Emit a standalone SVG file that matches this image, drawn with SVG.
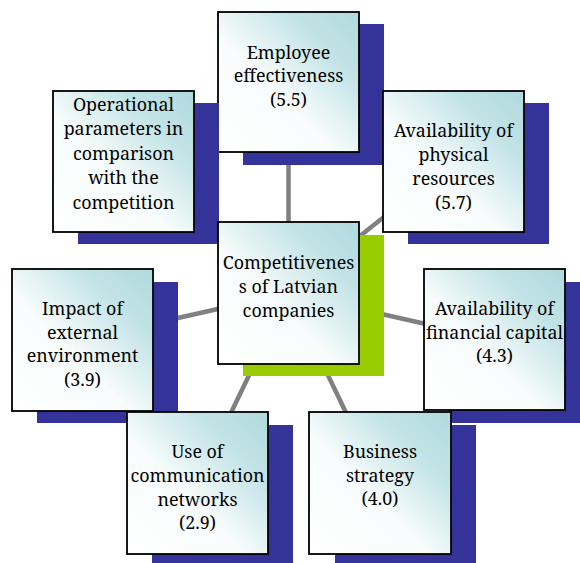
<svg xmlns="http://www.w3.org/2000/svg" width="580" height="563" viewBox="0 0 580 563">
<defs>
<linearGradient id="g" x1="1" y1="0" x2="0" y2="1">
<stop offset="0" stop-color="#b0d9de"/>
<stop offset="0.25" stop-color="#c2e3e6"/>
<stop offset="0.58" stop-color="#f8fcfc"/>
<stop offset="1" stop-color="#ffffff"/>
</linearGradient>
<style>
.sh{fill:#333399}
.shg{fill:#99cc00}
.bx{fill:url(#g);stroke:#000;stroke-width:1.8}
.t{font-family:"Noto Serif","DejaVu Serif",serif;font-size:19px;fill:#000;text-anchor:middle}
.c{stroke:#808080;stroke-width:4.5;fill:none}
</style>
</defs>
<rect width="580" height="563" fill="#fff"/>
<g id="connectors">
<line class="c" x1="288.5" y1="293" x2="288.5" y2="82"/>
<line class="c" x1="288.5" y1="293" x2="123.5" y2="161.5"/>
<line class="c" x1="288.5" y1="293" x2="453.5" y2="161.5"/>
<line class="c" x1="288.5" y1="293" x2="82.5" y2="339.5"/>
<line class="c" x1="288.5" y1="293" x2="494.5" y2="339.5"/>
<line class="c" x1="288.5" y1="293" x2="197.5" y2="482.5"/>
<line class="c" x1="288.5" y1="293" x2="379.5" y2="482.5"/>
</g>
<g id="employee">
<rect class="sh" x="243" y="24" width="141" height="141"/>
<rect class="bx" x="218" y="12" width="141" height="140"/>
<text class="t" transform="matrix(0.94 0 0 1 17.31 0)"><tspan x="288.5" y="59">Employee</tspan><tspan x="288.5" y="82.5">effectiveness</tspan><tspan x="288.5" y="106">(5.5)</tspan></text>
</g>
<g id="operational">
<rect class="sh" x="78" y="103" width="141" height="141"/>
<rect class="bx" x="53" y="91" width="141" height="141"/>
<text class="t" transform="matrix(0.94 0 0 1 7.41 0)"><tspan x="123.5" y="111">Operational</tspan><tspan x="123.5" y="135.5">parameters in</tspan><tspan x="123.5" y="160">comparison</tspan><tspan x="123.5" y="184.5">with the</tspan><tspan x="123.5" y="209">competition</tspan></text>
</g>
<g id="physical">
<rect class="sh" x="408" y="103" width="141" height="141"/>
<rect class="bx" x="383" y="91" width="141" height="141"/>
<text class="t" transform="matrix(0.94 0 0 1 27.21 0)"><tspan x="453.5" y="137.5">Availability of</tspan><tspan x="453.5" y="161.2">physical</tspan><tspan x="453.5" y="184.9">resources</tspan><tspan x="453.5" y="208.6">(5.7)</tspan></text>
</g>
<g id="center">
<rect class="shg" x="243" y="235" width="141" height="141"/>
<rect class="bx" x="218" y="222" width="141" height="142"/>
<text class="t" transform="matrix(0.94 0 0 1 17.31 0)"><tspan x="288.5" y="269">Competitivenes</tspan><tspan x="288.5" y="293">s of Latvian</tspan><tspan x="288.5" y="317">companies</tspan></text>
</g>
<g id="impact">
<rect class="sh" x="37" y="282" width="141" height="141"/>
<rect class="bx" x="12" y="269" width="141" height="142"/>
<text class="t" transform="matrix(0.94 0 0 1 4.95 0)"><tspan x="82.5" y="315.5">Impact of</tspan><tspan x="82.5" y="339">external</tspan><tspan x="82.5" y="362.5">environment</tspan><tspan x="82.5" y="386">(3.9)</tspan></text>
</g>
<g id="financial">
<rect class="sh" x="449" y="282" width="141" height="141"/>
<rect class="bx" x="424" y="269" width="141" height="141"/>
<text class="t" transform="matrix(0.94 0 0 1 29.67 0)"><tspan x="494.5" y="315.5">Availability of</tspan><tspan x="494.5" y="339">financial capital</tspan><tspan x="494.5" y="362.5">(4.3)</tspan></text>
</g>
<g id="communication">
<rect class="sh" x="152" y="425" width="141" height="141"/>
<rect class="bx" x="127" y="412" width="141" height="142"/>
<text class="t" transform="matrix(0.94 0 0 1 11.85 0)"><tspan x="197.5" y="458">Use of</tspan><tspan x="197.5" y="482">communication</tspan><tspan x="197.5" y="506">networks</tspan><tspan x="197.5" y="529.5">(2.9)</tspan></text>
</g>
<g id="business">
<rect class="sh" x="335" y="425" width="141" height="141"/>
<rect class="bx" x="309" y="412" width="142" height="142"/>
<text class="t" transform="matrix(0.94 0 0 1 22.8 0)"><tspan x="380" y="458">Business</tspan><tspan x="380" y="482">strategy</tspan><tspan x="380" y="505.5">(4.0)</tspan></text>
</g>
</svg>
